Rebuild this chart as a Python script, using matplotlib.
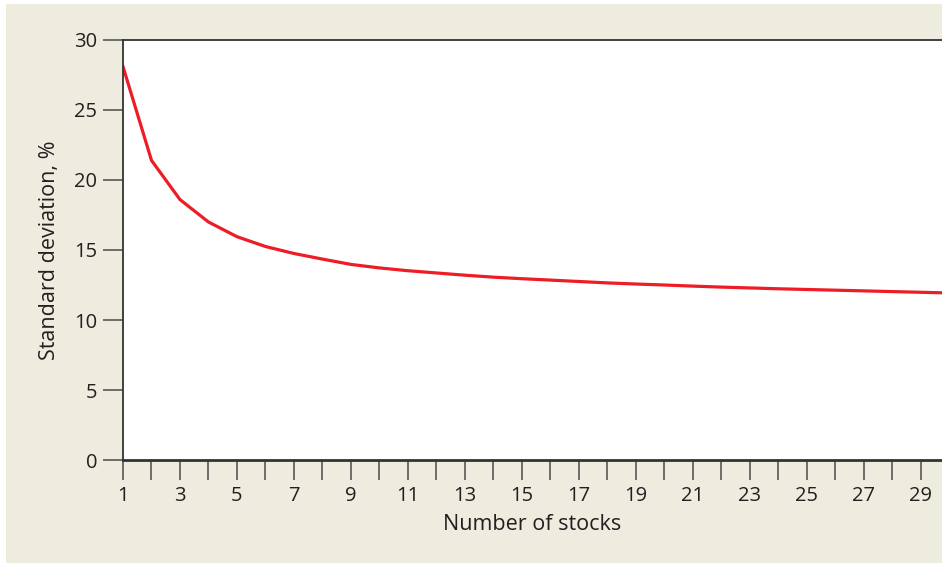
import matplotlib
matplotlib.use("Agg")
import matplotlib.pyplot as plt
from matplotlib.patches import Rectangle

n_stocks = list(range(1, 31))
std_dev = [28.1, 21.4, 18.6, 17.0, 15.95, 15.25, 14.75, 14.35, 13.97, 13.72,
           13.52, 13.36, 13.2, 13.06, 12.95, 12.85, 12.75, 12.65, 12.57, 12.5,
           12.42, 12.35, 12.29, 12.23, 12.18, 12.13, 12.08, 12.03, 11.98, 11.93]
x_ticklabels = [str(v) for v in range(1, 30, 2)]
y_ticks = [0, 5, 10, 15, 20, 25, 30]

BG = "#eeebdf"
TXT = "#231f20"
TICK = "#4a4a4a"
RED = "#ee1c25"

plt.rcParams['font.family'] = ['Open Sans', 'DejaVu Sans']

fig = plt.figure(figsize=(9.42, 5.65), dpi=100)
fig.patch.set_facecolor("white")
fig.add_artist(Rectangle((6/942, 2/565), 1, 1 - 6/565, transform=fig.transFigure,
                         facecolor=BG, edgecolor="none", zorder=0))

ax = fig.add_axes([123/942, 105/565, 819/942, 420/565])
ax.set_facecolor("white")
ax.plot(n_stocks, std_dev, color=RED, lw=2.3, solid_joinstyle="miter", clip_on=True)

ax.set_xlim(1, 29.74)
ax.set_ylim(0, 30)

ax.set_xticks(range(1, 30))
ax.set_xticklabels([str(v) if v % 2 == 1 else "" for v in range(1, 30)])
ax.set_yticks(y_ticks)

ax.spines['right'].set_visible(False)
for s in ['left', 'top']:
    ax.spines[s].set_color("#333333")
    ax.spines[s].set_linewidth(1.3)
ax.spines['bottom'].set_color("#333333")
ax.spines['bottom'].set_linewidth(2.0)

ax.tick_params(axis='x', direction='out', length=14.4, width=1.1, color=TICK,
               labelsize=14.5, labelcolor=TXT, pad=4)
ax.tick_params(axis='y', direction='out', length=14.4, width=1.1, color=TICK,
               labelsize=14.5, labelcolor=TXT, pad=4)

ax.set_xlabel("Number of stocks", fontsize=15.5, color=TXT, labelpad=6)
ax.set_ylabel("Standard deviation, %", fontsize=15.5, color=TXT, labelpad=10)

fig.savefig("out.png", dpi=100, facecolor=fig.get_facecolor())
